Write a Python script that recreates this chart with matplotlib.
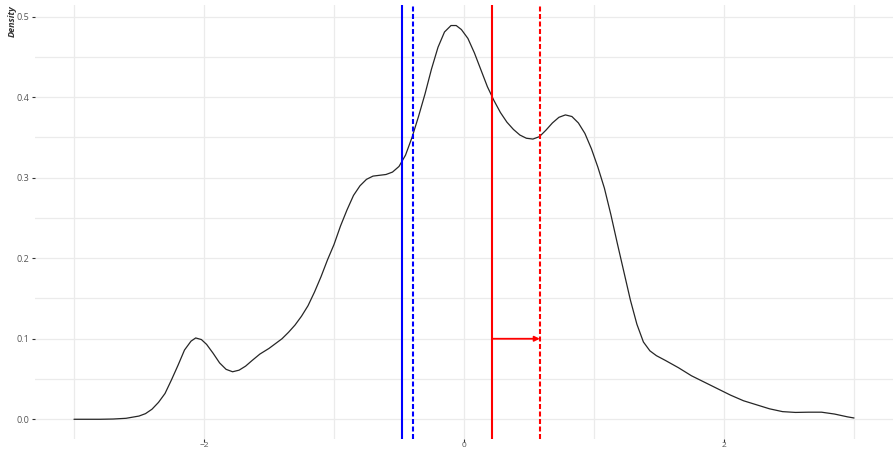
import matplotlib
matplotlib.use("Agg")
import matplotlib.pyplot as plt
from matplotlib.ticker import MultipleLocator

# Density curve
curve_x = [-3.0, -2.8, -2.7, -2.6, -2.5, -2.45, -2.4, -2.35, -2.3, -2.25, -2.2, -2.15, -2.1,
           -2.064, -2.02, -1.98, -1.93, -1.88, -1.83, -1.78, -1.73, -1.68, -1.63, -1.57,
           -1.5, -1.45, -1.4, -1.35, -1.3, -1.25, -1.2, -1.15, -1.1, -1.05, -1.0, -0.95,
           -0.9, -0.85, -0.8, -0.75, -0.7, -0.65, -0.6, -0.55, -0.5, -0.45, -0.4, -0.35,
           -0.3, -0.25, -0.2, -0.15, -0.1, -0.06, -0.02, 0.03, 0.08, 0.13, 0.18, 0.23,
           0.28, 0.33, 0.38, 0.43, 0.48, 0.53, 0.58, 0.63, 0.68, 0.73, 0.78, 0.83, 0.88,
           0.93, 0.98, 1.03, 1.08, 1.13, 1.18, 1.23, 1.28, 1.33, 1.38, 1.43, 1.48, 1.55,
           1.65, 1.75, 1.85, 1.95, 2.05, 2.15, 2.25, 2.35, 2.45, 2.55, 2.65, 2.75, 2.85,
           2.95, 3.0]
curve_y = [0.0, 0.0, 0.0003, 0.0012, 0.004, 0.007, 0.0125, 0.021, 0.032, 0.049, 0.067,
           0.086, 0.097, 0.101, 0.099, 0.093, 0.082, 0.070, 0.062, 0.059, 0.061, 0.066,
           0.073, 0.081, 0.088, 0.094, 0.100, 0.108, 0.117, 0.128, 0.141, 0.158, 0.177,
           0.198, 0.217, 0.240, 0.260, 0.278, 0.290, 0.298, 0.302, 0.303, 0.304, 0.307,
           0.314, 0.328, 0.350, 0.376, 0.404, 0.435, 0.462, 0.481, 0.489, 0.489, 0.484,
           0.473, 0.455, 0.434, 0.413, 0.396, 0.381, 0.369, 0.360, 0.353, 0.349, 0.348,
           0.351, 0.359, 0.368, 0.375, 0.378, 0.376, 0.368, 0.355, 0.336, 0.313, 0.287,
           0.254, 0.218, 0.183, 0.148, 0.118, 0.096, 0.085, 0.079, 0.073, 0.064, 0.054,
           0.046, 0.038, 0.030, 0.023, 0.018, 0.013, 0.0095, 0.0085, 0.0088, 0.0088,
           0.0065, 0.003, 0.0016]

blue_solid = -0.476
blue_dashed = -0.391
red_solid = 0.215
red_dashed = 0.583
arrow_y = 0.1

x_ticks = [-2, 0, 2]
y_ticks = [0.0, 0.1, 0.2, 0.3, 0.4, 0.5]
y_label = "Density"

fig = plt.figure(figsize=(8.93, 4.5), dpi=100)
ax = fig.add_axes([35 / 893, 11 / 450, 858 / 893, 434 / 450])

ax.plot(curve_x, curve_y, color="#262626", lw=0.9, zorder=3,
        solid_capstyle="round", solid_joinstyle="round")

dash = (0, (2.4, 1.2))
ax.axvline(blue_solid, color="#0000FF", lw=1.5, zorder=4)
ax.axvline(blue_dashed, color="#0000FF", lw=1.5, ls=dash, zorder=4)
ax.axvline(red_solid, color="#FF0000", lw=1.5, zorder=4)
ax.axvline(red_dashed, color="#FF0000", lw=1.5, ls=dash, zorder=4)
ax.annotate("", xy=(red_dashed, arrow_y), xytext=(red_solid, arrow_y),
            arrowprops=dict(arrowstyle="-|>,head_length=0.3,head_width=0.15",
                            color="#FF0000", lw=1.3, shrinkA=0, shrinkB=0), zorder=5)

ax.set_xlim(-3.3, 3.3)
ax.set_ylim(-0.0245, 0.5145)
ax.set_xticks(x_ticks)
ax.set_yticks(y_ticks)
ax.set_yticklabels([f"{v:.1f}" for v in y_ticks])
ax.xaxis.set_minor_locator(MultipleLocator(1))
ax.yaxis.set_minor_locator(MultipleLocator(0.05))
ax.grid(True, which="major", color="#ebebeb", lw=0.9, zorder=0)
ax.grid(True, which="minor", color="#ebebeb", lw=0.9, zorder=0)
ax.set_axisbelow(True)
for s in ax.spines.values():
    s.set_visible(False)
ax.tick_params(which="major", length=2.5, width=0.8, color="#333333", pad=1.5,
               labelsize=6.5, labelcolor="#555555")
ax.tick_params(axis="x", which="major", length=2, pad=0.3, labelsize=6)
ax.tick_params(which="minor", length=0)
for lab in ax.get_xticklabels() + ax.get_yticklabels():
    lab.set_family("Open Sans")

fig.text(12 / 893, 1 - 5 / 450, y_label, rotation=90, ha="center", va="top",
         fontsize=6.5, fontstyle="italic", fontweight="bold", color="#333333",
         family="Open Sans")

fig.savefig("out.png", dpi=100)
